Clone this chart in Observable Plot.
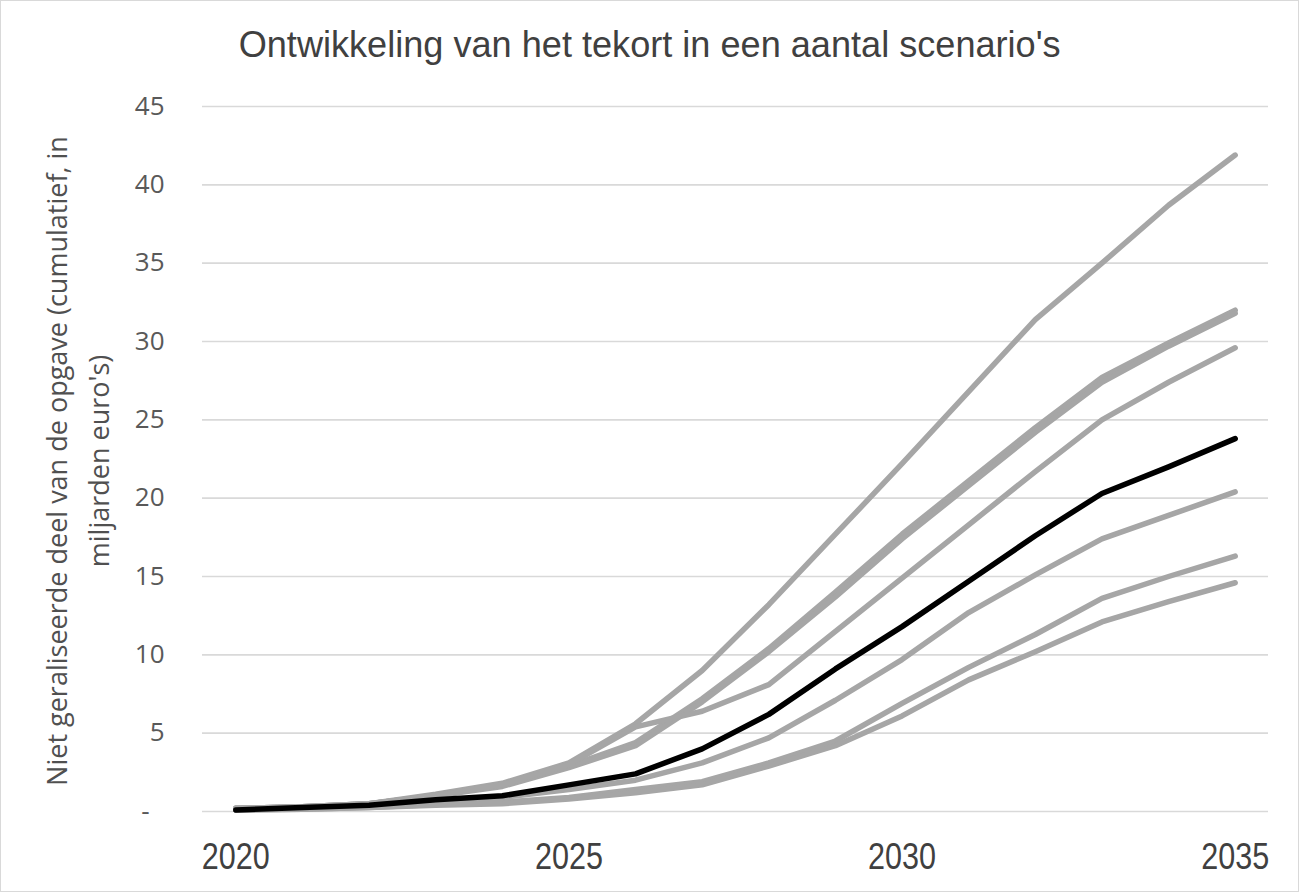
<!DOCTYPE html>
<html>
<head>
<meta charset="utf-8">
<script src="https://cdn.jsdelivr.net/npm/d3@7"></script>
<script src="https://cdn.jsdelivr.net/npm/@observablehq/plot@0.6"></script>
<style>
  body { margin: 0; background: #fff; }
  #wrap { position: relative; width: 1297px; height: 890px; border: 1px solid #d9d9d9; overflow: hidden; background: #fff; }
  #chart { position: absolute; left: 0; top: 0; }
  #title { position: absolute; left: 0; top: 26px; width: 1297px; text-align: center; white-space: nowrap;
           font-family: "Liberation Sans", sans-serif; font-size: 36px; color: #404040; line-height: 1; }
  #title span { display: inline-block; transform-origin: center; }
  #ytitle { position: absolute; width: 800px; height: 84px; left: -323px; top: 418px; transform: rotate(-90deg); transform-origin: center;
            text-align: center; font-family: "Open Sans", sans-serif; font-size: 27px; line-height: 42px; color: #505050; white-space: nowrap; }
</style>
</head>
<body>
<div id="wrap">
  <div id="chart"></div>
  <div id="title"><span>Ontwikkeling van het tekort in een aantal scenario's</span></div>
  <div id="ytitle">Niet geraliseerde deel van de opgave (cumulatief, in<br>miljarden euro's)</div>
</div>
<script>
const years = [2020, 2021, 2022, 2023, 2024, 2025, 2026, 2027, 2028, 2029, 2030, 2031, 2032, 2033, 2034, 2035];
const scenarioA = [0.2, 0.3, 0.5, 1.1, 1.8, 3.1, 5.6, 9.0, 13.2, 17.7, 22.2, 26.8, 31.4, 35.0, 38.7, 41.9];
const scenarioB = [0.2, 0.3, 0.5, 1.0, 1.7, 2.9, 4.4, 7.2, 10.4, 14.0, 17.7, 21.1, 24.5, 27.7, 29.9, 32.0];
const scenarioC = [0.2, 0.3, 0.5, 1.0, 1.6, 2.8, 4.2, 7.0, 10.2, 13.7, 17.4, 20.8, 24.2, 27.4, 29.7, 31.8];
const scenarioD = [0.2, 0.3, 0.5, 1.0, 1.7, 3.0, 5.4, 6.4, 8.1, 11.5, 14.9, 18.3, 21.7, 25.0, 27.4, 29.6];
const scenarioF = [0.1, 0.2, 0.3, 0.6, 0.9, 1.4, 2.0, 3.1, 4.7, 7.1, 9.7, 12.7, 15.1, 17.4, 18.9, 20.4];
const scenarioG = [0.1, 0.15, 0.25, 0.45, 0.6, 0.9, 1.4, 1.9, 3.1, 4.5, 6.9, 9.2, 11.3, 13.6, 15.0, 16.3];
const scenarioH = [0.1, 0.15, 0.25, 0.4, 0.5, 0.8, 1.2, 1.7, 2.9, 4.2, 6.1, 8.4, 10.2, 12.1, 13.4, 14.6];
const basis     = [0.1, 0.25, 0.4, 0.75, 1.0, 1.7, 2.4, 4.0, 6.2, 9.1, 11.8, 14.7, 17.6, 20.3, 22.0, 23.8];
const grayScenarios = [scenarioA, scenarioB, scenarioC, scenarioD, scenarioF, scenarioG, scenarioH];
const xTicks = [2020, 2025, 2030, 2035];
const yTicks = [0, 5, 10, 15, 20, 25, 30, 35, 40, 45];

const toRows = (vals, name) => vals.map((v, i) => ({year: years[i], value: v, name}));
const grayRows = grayScenarios.flatMap((s, k) => toRows(s, "s" + k));
const basisRows = toRows(basis, "basis");

const plot = Plot.plot({
  width: 1297,
  height: 890,
  marginLeft: 201,
  marginRight: 30,
  marginTop: 105,
  marginBottom: 80,
  x: {domain: [2019.5, 2035.5]},
  y: {domain: [0, 45]},
  style: {background: "transparent", overflow: "visible"},
  marks: [
    Plot.ruleY(yTicks, {stroke: "#d9d9d9", strokeWidth: 1.6}),
    Plot.axisY({ticks: yTicks, tickSize: 0, tickPadding: 38, tickFormat: d => d === 0 ? "-\u2007" : String(d),
                fontSize: 26, fontFamily: "Open Sans, sans-serif", fill: "#595959", label: null}),
    Plot.axisX({ticks: xTicks, tickSize: 0, tickPadding: 32, tickFormat: d => String(d),
                fontSize: 36, fontFamily: "Liberation Sans, sans-serif", fill: "#404040", label: null, ariaLabel: "x-axis"}),
    Plot.line(grayRows, {x: "year", y: "value", z: "name", stroke: "#a6a6a6", strokeWidth: 5.5}),
    Plot.line(basisRows, {x: "year", y: "value", stroke: "#000000", strokeWidth: 5.5})
  ]
});
document.getElementById("chart").appendChild(plot);

// condense x tick labels like the reference's narrow font
d3.select(plot).selectAll("g[aria-label='x-axis'] text, g[aria-label='x-axis tick label'] text")
  .attr("textLength", 68).attr("lengthAdjust", "spacingAndGlyphs");

// fit title width to reference span
const t = document.querySelector("#title span");
const w = t.getBoundingClientRect().width;
t.style.transform = `scaleX(${822 / w})`;
</script>
</body>
</html>
